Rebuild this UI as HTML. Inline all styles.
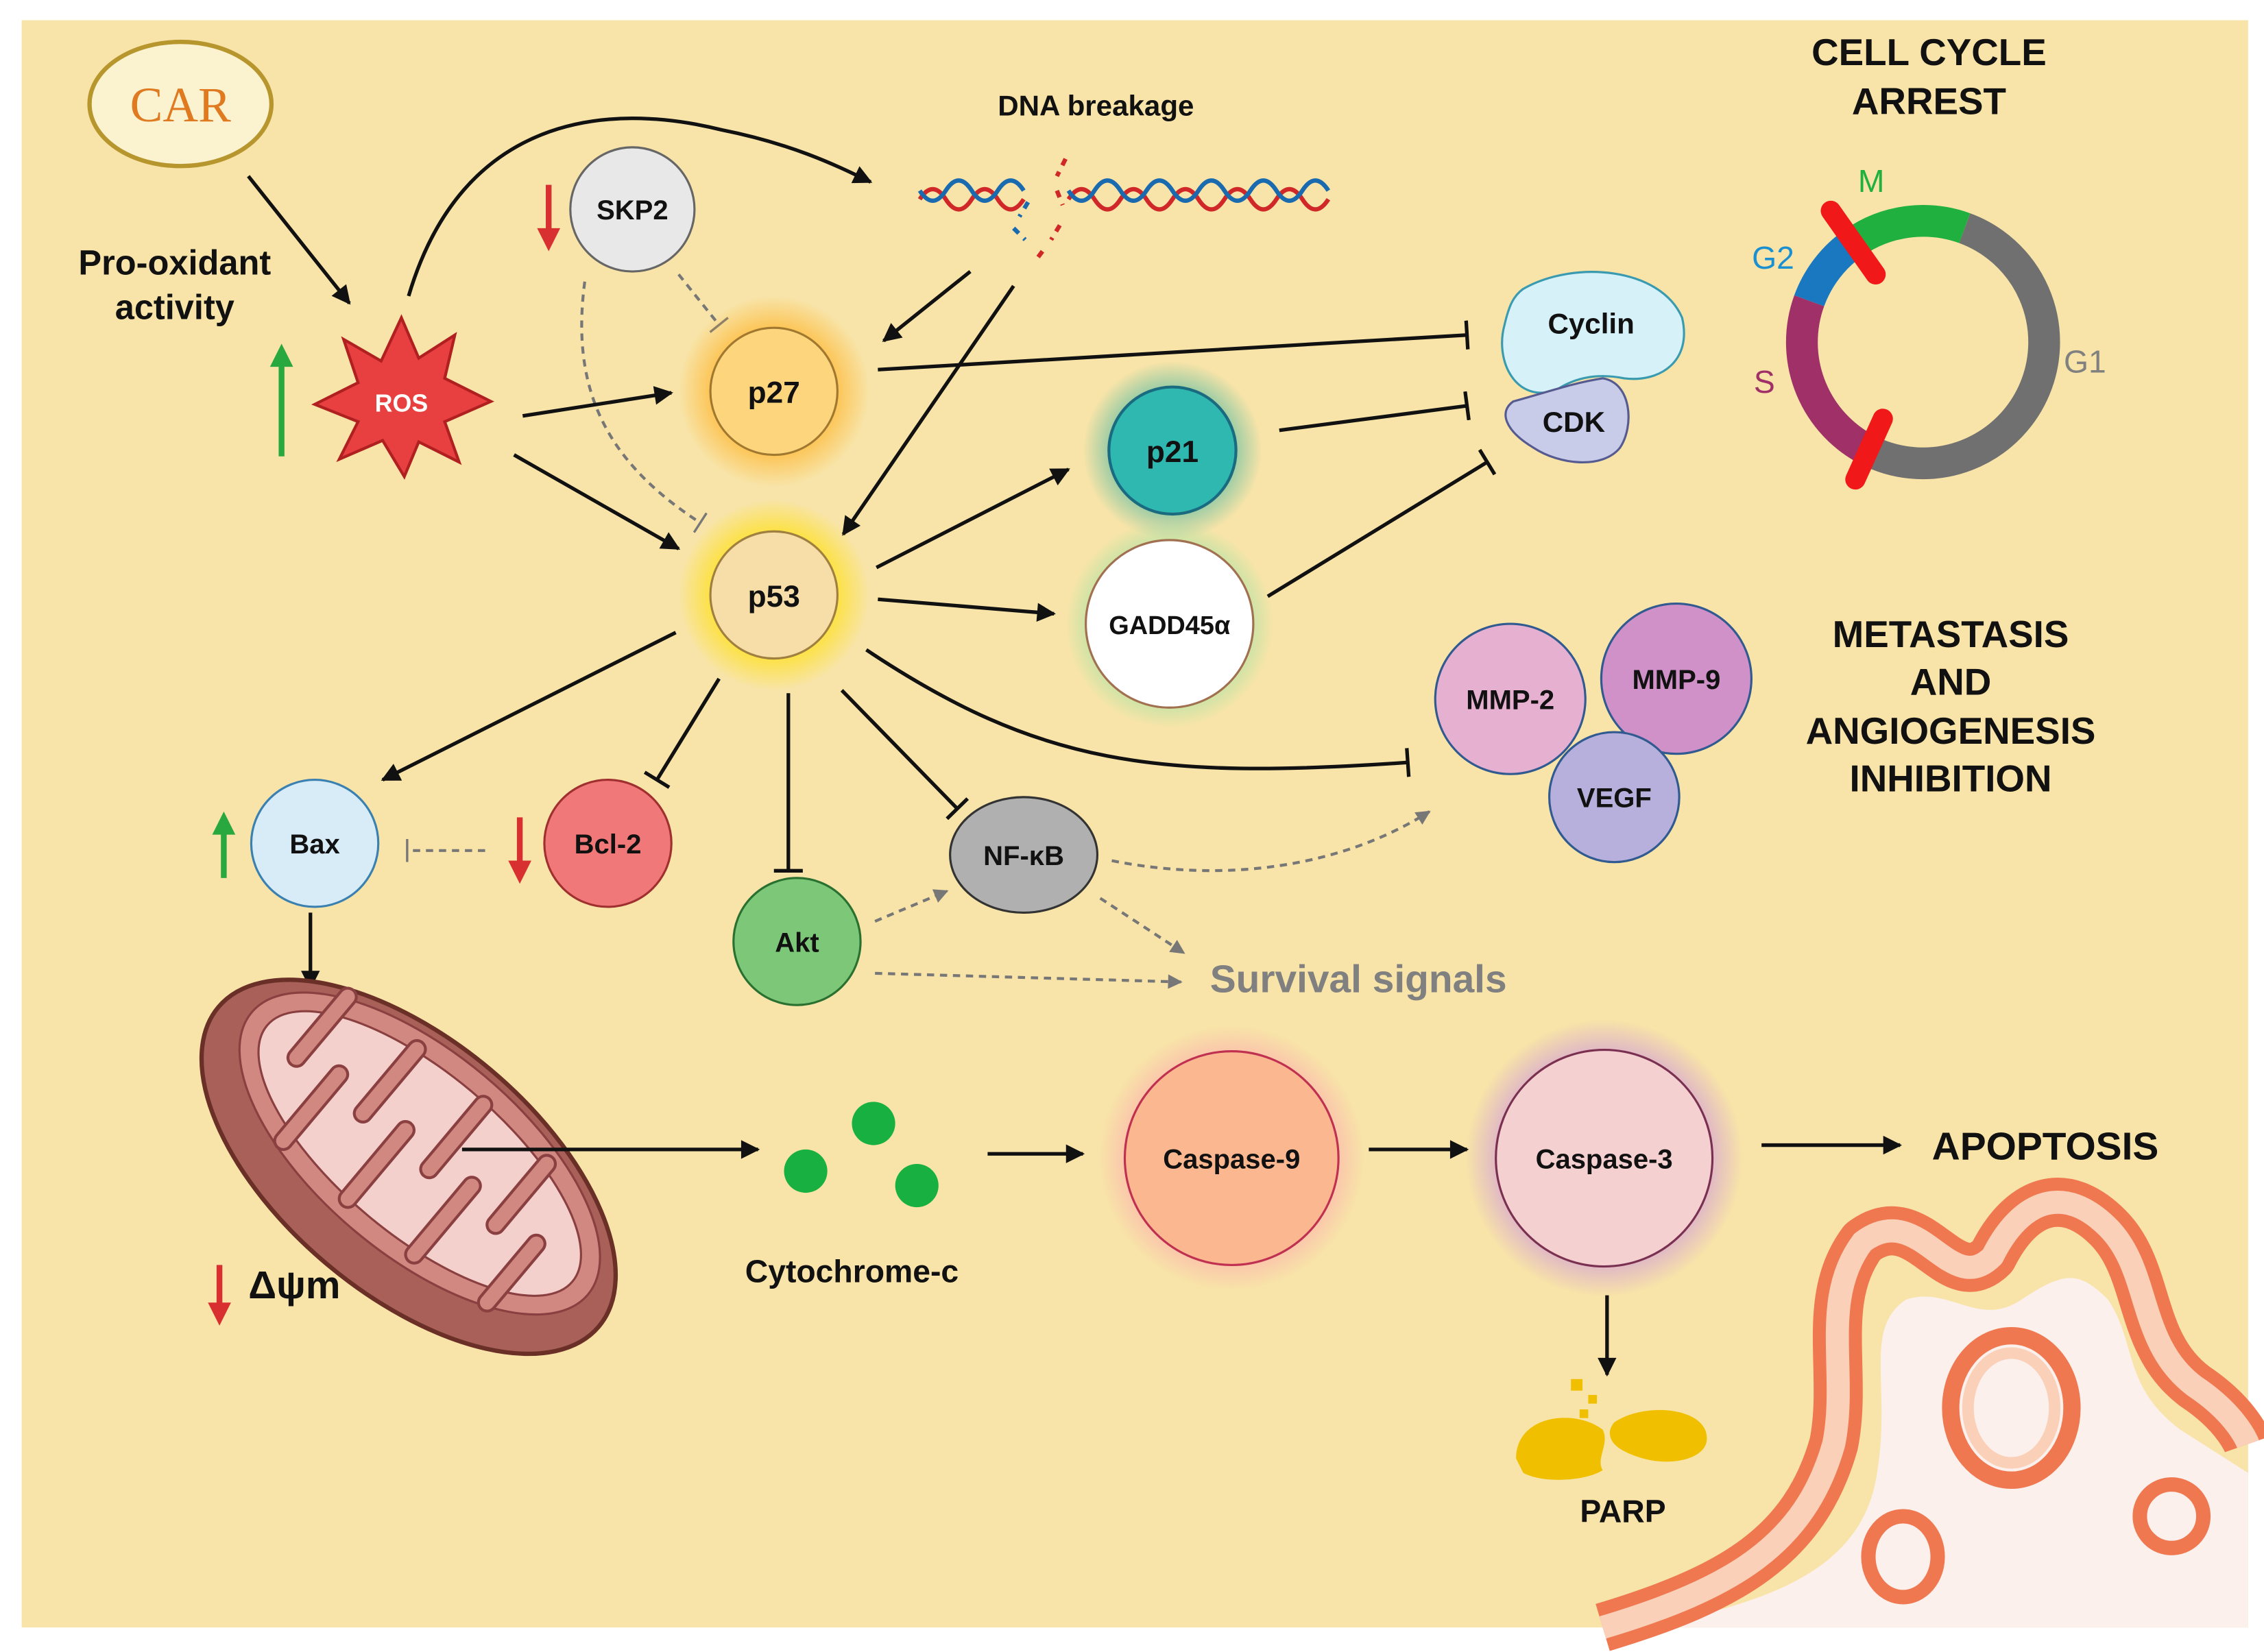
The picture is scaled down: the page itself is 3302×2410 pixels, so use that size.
<!DOCTYPE html>
<html><head><meta charset="utf-8"><style>
html,body{margin:0;padding:0;background:#fff;}
svg{display:block;}
text{font-family:"Liberation Sans",Arial,sans-serif;font-weight:bold;}
</style></head><body>
<svg width="3302" height="2410" viewBox="0 0 1568 1144" preserveAspectRatio="none" xmlns="http://www.w3.org/2000/svg">
<defs>
<marker id="a" markerUnits="userSpaceOnUse" viewBox="0 0 10 10" refX="9" refY="5" markerWidth="14" markerHeight="13" orient="auto"><path d="M0,0 L10,5 L0,10 z" fill="#111"/></marker>
<marker id="g" markerUnits="userSpaceOnUse" viewBox="0 0 10 10" refX="9" refY="5" markerWidth="11" markerHeight="10" orient="auto"><path d="M0,0 L10,5 L0,10 z" fill="#777"/></marker>
<marker id="t" markerUnits="userSpaceOnUse" viewBox="0 0 4 20" refX="2" refY="10" markerWidth="4" markerHeight="20" orient="auto"><path d="M2,0 L2,20" stroke="#111" stroke-width="2.5"/></marker>
<marker id="tg" markerUnits="userSpaceOnUse" viewBox="0 0 4 20" refX="2" refY="10" markerWidth="4" markerHeight="16" orient="auto"><path d="M2,0 L2,20" stroke="#777" stroke-width="2"/></marker>
<radialGradient id="gy"><stop offset="0.55" stop-color="#ffe000" stop-opacity="0.8"/><stop offset="1" stop-color="#ffe000" stop-opacity="0"/></radialGradient>
<radialGradient id="go"><stop offset="0.55" stop-color="#ffb020" stop-opacity="0.8"/><stop offset="1" stop-color="#ffb020" stop-opacity="0"/></radialGradient>
<radialGradient id="gt"><stop offset="0.55" stop-color="#30b0a0" stop-opacity="0.7"/><stop offset="1" stop-color="#30b0a0" stop-opacity="0"/></radialGradient>
<radialGradient id="gg"><stop offset="0.6" stop-color="#80e0a0" stop-opacity="0.7"/><stop offset="1" stop-color="#80e0a0" stop-opacity="0"/></radialGradient>
<radialGradient id="gp"><stop offset="0.6" stop-color="#ff80b0" stop-opacity="0.6"/><stop offset="1" stop-color="#ff80b0" stop-opacity="0"/></radialGradient>
<radialGradient id="gv"><stop offset="0.6" stop-color="#b060ff" stop-opacity="0.6"/><stop offset="1" stop-color="#b060ff" stop-opacity="0"/></radialGradient>
</defs>
<rect x="15" y="14" width="1542" height="1113" fill="#f8e4a8"/>

<!-- cell at bottom right -->
<g fill="none" stroke-linejoin="round">
<path d="M1140,1127 C1220,1110 1290,1090 1300,1020 C1310,960 1290,920 1320,900 C1350,890 1370,920 1400,900 C1430,880 1440,880 1460,900 C1480,930 1470,960 1510,990 L1557,1020 L1557,1127 Z" fill="#fbf0ec" stroke="none"/>
<path d="M1110,1127 C1200,1100 1250,1070 1270,1000 C1280,950 1260,900 1290,860 C1330,830 1350,900 1380,870 C1400,830 1430,820 1460,850 C1490,880 1480,930 1520,960 C1550,980 1557,1000 1557,1000" stroke="#f07850" stroke-width="34"/>
<path d="M1110,1127 C1200,1100 1250,1070 1270,1000 C1280,950 1260,900 1290,860 C1330,830 1350,900 1380,870 C1400,830 1430,820 1460,850 C1490,880 1480,930 1520,960 C1550,980 1557,1000 1557,1000" stroke="#fbd0b8" stroke-width="16"/>
<ellipse cx="1393" cy="975" rx="42" ry="50" stroke="#f07850" stroke-width="12"/>
<ellipse cx="1393" cy="975" rx="30" ry="38" stroke="#fbd0b8" stroke-width="8"/>
<ellipse cx="1318" cy="1078" rx="24" ry="28" stroke="#f07850" stroke-width="10"/>
<ellipse cx="1504" cy="1050" rx="22" ry="22" stroke="#f07850" stroke-width="10"/>
</g>

<!-- CAR -->
<ellipse cx="125" cy="72" rx="63" ry="43" fill="#fbf3d0" stroke="#b8962e" stroke-width="3"/>
<text x="125" y="84" text-anchor="middle" font-size="34" fill="#e07a20" style="font-family:'Liberation Serif',serif;font-weight:normal">CAR</text>
<text x="121" y="190" text-anchor="middle" font-size="24" fill="#111">Pro-oxidant</text>
<text x="121" y="221" text-anchor="middle" font-size="24" fill="#111">activity</text>
<line x1="172" y1="122" x2="242" y2="210" stroke="#111" stroke-width="2.5" marker-end="url(#a)"/>

<!-- ROS -->
<polygon points="278,220 290,248 315,232 308,262 340,278 308,292 318,320 290,306 280,330 265,305 235,318 248,292 218,280 248,265 238,235 264,250" fill="#e84040" stroke="#b02020" stroke-width="2"/>
<text x="278" y="285" text-anchor="middle" font-size="17" fill="#fff">ROS</text>
<line x1="195" y1="316" x2="195" y2="250" stroke="#2aa840" stroke-width="4"/><path d="M187,254 L195,238 L203,254 z" fill="#2aa840"/>
<path d="M283,205 C320,80 420,70 500,90 C550,100 580,115 603,126" fill="none" stroke="#111" stroke-width="2.5" marker-end="url(#a)"/>

<!-- DNA -->
<text x="759" y="80" text-anchor="middle" font-size="20" fill="#111">DNA breakage</text>
<g fill="none" stroke-width="3">
<path d="M637,138 q9,-14 18,0 t18,0 t18,0 t18,0" stroke="#d02828"/>
<path d="M637,132 q9,14 18,0 t18,0 t18,0 t18,0" stroke="#1a6ab0"/>
<path d="M740,138 q9,-14 18,0 t18,0 t18,0 t18,0 t18,0 t18,0 t18,0 t18,0 t18,0 t18,0" stroke="#d02828"/>
<path d="M740,132 q9,14 18,0 t18,0 t18,0 t18,0 t18,0 t18,0 t18,0 t18,0 t18,0 t18,0" stroke="#1a6ab0"/>
<path d="M738,110 l-6,12 m0,10 l4,10 m-2,14 l-6,10 m-6,8 l-6,8" stroke="#d02828" stroke-dasharray="5 5"/>
<path d="M712,140 l-6,10 m-4,8 l8,8" stroke="#1a6ab0" stroke-dasharray="5 5"/>
</g>
<line x1="672" y1="188" x2="612" y2="236" stroke="#111" stroke-width="2.5" marker-end="url(#a)"/>
<line x1="702" y1="198" x2="584" y2="370" stroke="#111" stroke-width="2.5" marker-end="url(#a)"/>

<!-- SKP2 -->
<line x1="380" y1="128" x2="380" y2="160" stroke="#d83030" stroke-width="4"/><path d="M372,158 L380,174 L388,158 z" fill="#d83030"/>
<circle cx="438" cy="145" r="43" fill="#e8e8e8" stroke="#666" stroke-width="1.5"/>
<text x="438" y="152" text-anchor="middle" font-size="19" fill="#111">SKP2</text>
<line x1="470" y1="190" x2="498" y2="225" stroke="#777" stroke-width="2" stroke-dasharray="5 4" marker-end="url(#tg)"/>
<path d="M405,195 C395,270 420,320 485,362" fill="none" stroke="#777" stroke-width="2" stroke-dasharray="5 4" marker-end="url(#tg)"/>

<!-- p27 -->
<circle cx="536" cy="271" r="66" fill="url(#go)"/>
<circle cx="536" cy="271" r="44" fill="#fcd57c" stroke="#a07830" stroke-width="1.5"/>
<text x="536" y="279" text-anchor="middle" font-size="21" fill="#111">p27</text>
<line x1="362" y1="288" x2="465" y2="272" stroke="#111" stroke-width="2.5" marker-end="url(#a)"/>
<line x1="608" y1="256" x2="1016" y2="232" stroke="#111" stroke-width="2.5" marker-end="url(#t)"/>

<!-- p53 -->
<circle cx="536" cy="412" r="66" fill="url(#gy)"/>
<circle cx="536" cy="412" r="44" fill="#f7dea8" stroke="#a08040" stroke-width="1.5"/>
<text x="536" y="420" text-anchor="middle" font-size="21" fill="#111">p53</text>
<line x1="356" y1="315" x2="470" y2="380" stroke="#111" stroke-width="2.5" marker-end="url(#a)"/>
<line x1="607" y1="393" x2="740" y2="325" stroke="#111" stroke-width="2.5" marker-end="url(#a)"/>
<line x1="608" y1="415" x2="730" y2="425" stroke="#111" stroke-width="2.5" marker-end="url(#a)"/>
<path d="M600,450 C720,530 800,540 975,528" fill="none" stroke="#111" stroke-width="2.5" marker-end="url(#t)"/>
<line x1="468" y1="438" x2="265" y2="540" stroke="#111" stroke-width="2.5" marker-end="url(#a)"/>
<line x1="498" y1="470" x2="455" y2="540" stroke="#111" stroke-width="2.5" marker-end="url(#t)"/>
<line x1="546" y1="480" x2="546" y2="603" stroke="#111" stroke-width="2.5" marker-end="url(#t)"/>
<line x1="583" y1="478" x2="663" y2="560" stroke="#111" stroke-width="2.5" marker-end="url(#t)"/>

<!-- p21 -->
<circle cx="812" cy="312" r="62" fill="url(#gt)"/>
<circle cx="812" cy="312" r="44" fill="#2eb8b0" stroke="#1a6a80" stroke-width="2"/>
<text x="812" y="320" text-anchor="middle" font-size="21" fill="#111">p21</text>
<line x1="886" y1="298" x2="1016" y2="281" stroke="#111" stroke-width="2.5" marker-end="url(#t)"/>

<!-- GADD45 -->
<circle cx="810" cy="432" r="72" fill="url(#gg)"/>
<circle cx="810" cy="432" r="58" fill="#fff" stroke="#a07050" stroke-width="1.5"/>
<text x="810" y="439" text-anchor="middle" font-size="18" fill="#111">GADD45α</text>
<line x1="878" y1="413" x2="1030" y2="320" stroke="#111" stroke-width="2.5" marker-end="url(#t)"/>

<!-- Cyclin CDK -->
<path d="M1055,200 C1090,180 1150,185 1165,220 C1172,250 1150,265 1125,262 C1105,258 1090,262 1078,270 C1050,280 1035,250 1042,225 C1045,212 1048,205 1055,200 z" fill="#d6f2f8" stroke="#3a9ab0" stroke-width="1.5"/>
<text x="1102" y="231" text-anchor="middle" font-size="20" fill="#111">Cyclin</text>
<path d="M1048,278 C1070,272 1090,265 1110,262 C1130,265 1132,295 1122,310 C1110,325 1080,322 1062,310 C1042,298 1038,285 1048,278 z" fill="#c8cce8" stroke="#555a90" stroke-width="1.5"/>
<text x="1090" y="299" text-anchor="middle" font-size="20" fill="#111">CDK</text>

<!-- Cell cycle -->
<text x="1336" y="45" text-anchor="middle" font-size="26" fill="#111">CELL CYCLE</text>
<text x="1336" y="79" text-anchor="middle" font-size="26" fill="#111">ARREST</text>
<g fill="none" stroke-width="22">
<path d="M1360.7,158 A84,84 0 1 1 1296.5,313.1" stroke="#707070"/>
<path d="M1283.8,168.2 A84,84 0 0 1 1360.7,158" stroke="#20b040"/>
<path d="M1253,208.3 A84,84 0 0 1 1283.8,168.2" stroke="#1a78c0"/>
<path d="M1296.5,313.1 A84,84 0 0 1 1253,208.3" stroke="#a03068"/>
</g>
<line x1="1268" y1="146" x2="1299" y2="190" stroke="#f01818" stroke-width="14" stroke-linecap="round"/>
<line x1="1304" y1="290" x2="1285" y2="332" stroke="#f01818" stroke-width="14" stroke-linecap="round"/>
<text x="1296" y="133" text-anchor="middle" font-size="22" fill="#20b040" style="font-weight:normal">M</text>
<text x="1228" y="186" text-anchor="middle" font-size="22" fill="#1a90d0" style="font-weight:normal">G2</text>
<text x="1222" y="272" text-anchor="middle" font-size="22" fill="#a03068" style="font-weight:normal">S</text>
<text x="1444" y="258" text-anchor="middle" font-size="22" fill="#808080" style="font-weight:normal">G1</text>

<!-- MMP -->
<circle cx="1046" cy="484" r="52" fill="#e6b0d0" stroke="#305a90" stroke-width="1.5"/>
<text x="1046" y="491" text-anchor="middle" font-size="19" fill="#111">MMP-2</text>
<circle cx="1161" cy="470" r="52" fill="#d090c8" stroke="#305a90" stroke-width="1.5"/>
<text x="1161" y="477" text-anchor="middle" font-size="19" fill="#111">MMP-9</text>
<circle cx="1118" cy="552" r="45" fill="#b8b0dc" stroke="#305a90" stroke-width="1.5"/>
<text x="1118" y="559" text-anchor="middle" font-size="19" fill="#111">VEGF</text>
<text x="1351" y="448" text-anchor="middle" font-size="26" fill="#111">METASTASIS</text>
<text x="1351" y="481" text-anchor="middle" font-size="26" fill="#111">AND</text>
<text x="1351" y="515" text-anchor="middle" font-size="26" fill="#111">ANGIOGENESIS</text>
<text x="1351" y="548" text-anchor="middle" font-size="26" fill="#111">INHIBITION</text>

<!-- Bax Bcl2 -->
<line x1="155" y1="608" x2="155" y2="575" stroke="#2aa840" stroke-width="4"/><path d="M147,578 L155,562 L163,578 z" fill="#2aa840"/>
<circle cx="218" cy="584" r="44" fill="#d8ecf8" stroke="#3a80b0" stroke-width="1.5"/>
<text x="218" y="591" text-anchor="middle" font-size="19" fill="#111">Bax</text>
<line x1="360" y1="566" x2="360" y2="598" stroke="#d83030" stroke-width="4"/><path d="M352,596 L360,612 L368,596 z" fill="#d83030"/>
<circle cx="421" cy="584" r="44" fill="#f07878" stroke="#a03030" stroke-width="1.5"/>
<text x="421" y="591" text-anchor="middle" font-size="19" fill="#111">Bcl-2</text>
<line x1="336" y1="589" x2="282" y2="589" stroke="#777" stroke-width="2" stroke-dasharray="5 4" marker-end="url(#tg)"/>
<line x1="215" y1="632" x2="215" y2="684" stroke="#111" stroke-width="2.5" marker-end="url(#a)"/>

<!-- Akt NFkB -->
<circle cx="552" cy="652" r="44" fill="#7cc878" stroke="#2a7030" stroke-width="1.5"/>
<text x="552" y="659" text-anchor="middle" font-size="19" fill="#111">Akt</text>
<ellipse cx="709" cy="592" rx="51" ry="40" fill="#b0b0b0" stroke="#333" stroke-width="1.5"/>
<text x="709" y="599" text-anchor="middle" font-size="19" fill="#111">NF-κB</text>
<line x1="606" y1="638" x2="656" y2="617" stroke="#777" stroke-width="2" stroke-dasharray="5 4" marker-end="url(#g)"/>
<line x1="606" y1="674" x2="818" y2="680" stroke="#777" stroke-width="2" stroke-dasharray="5 4" marker-end="url(#g)"/>
<line x1="762" y1="622" x2="820" y2="660" stroke="#777" stroke-width="2" stroke-dasharray="5 4" marker-end="url(#g)"/>
<path d="M770,596 C850,612 930,600 990,562" fill="none" stroke="#777" stroke-width="2" stroke-dasharray="5 4" marker-end="url(#g)"/>
<text x="838" y="687" font-size="27" fill="#808080">Survival signals</text>

<!-- Mitochondrion -->
<g transform="rotate(40 283 808)">
<ellipse cx="283" cy="808" rx="172" ry="88" fill="#a86058" stroke="#6a3028" stroke-width="3"/>
<ellipse cx="283" cy="796" rx="152" ry="70" fill="#d08880" stroke="#8a4040" stroke-width="1.5"/>
<ellipse cx="283" cy="796" rx="138" ry="56" fill="#f4d0cc" stroke="#8a4040" stroke-width="1.5"/>
<g stroke="#8a4040" stroke-width="14" stroke-linecap="round">
<line x1="175" y1="745" x2="175" y2="800"/><line x1="205" y1="850" x2="205" y2="790"/>
<line x1="235" y1="742" x2="235" y2="800"/><line x1="265" y1="852" x2="265" y2="790"/>
<line x1="295" y1="742" x2="295" y2="800"/><line x1="325" y1="852" x2="325" y2="790"/>
<line x1="355" y1="745" x2="355" y2="800"/><line x1="385" y1="845" x2="385" y2="792"/>
</g>
<g stroke="#d08880" stroke-width="10" stroke-linecap="round">
<line x1="175" y1="745" x2="175" y2="800"/><line x1="205" y1="850" x2="205" y2="790"/>
<line x1="235" y1="742" x2="235" y2="800"/><line x1="265" y1="852" x2="265" y2="790"/>
<line x1="295" y1="742" x2="295" y2="800"/><line x1="325" y1="852" x2="325" y2="790"/>
<line x1="355" y1="745" x2="355" y2="800"/><line x1="385" y1="845" x2="385" y2="792"/>
</g>
</g>
<line x1="320" y1="796" x2="525" y2="796" stroke="#111" stroke-width="2.5" marker-end="url(#a)"/>
<line x1="152" y1="876" x2="152" y2="905" stroke="#d83030" stroke-width="4"/><path d="M144,902 L152,918 L160,902 z" fill="#d83030"/>
<text x="172" y="899" font-size="27" fill="#111">Δψm</text>

<!-- Cytochrome c -->
<circle cx="558" cy="811" r="15" fill="#18b040"/>
<circle cx="605" cy="778" r="15" fill="#18b040"/>
<circle cx="635" cy="821" r="15" fill="#18b040"/>
<text x="590" y="888" text-anchor="middle" font-size="22" fill="#111">Cytochrome-c</text>
<line x1="684" y1="799" x2="750" y2="799" stroke="#111" stroke-width="2.5" marker-end="url(#a)"/>

<!-- Caspases -->
<circle cx="853" cy="802" r="92" fill="url(#gp)"/>
<circle cx="853" cy="802" r="74" fill="#fbb890" stroke="#c03050" stroke-width="1.5"/>
<text x="853" y="809" text-anchor="middle" font-size="19" fill="#111">Caspase-9</text>
<line x1="948" y1="796" x2="1016" y2="796" stroke="#111" stroke-width="2.5" marker-end="url(#a)"/>
<circle cx="1111" cy="802" r="96" fill="url(#gv)"/>
<circle cx="1111" cy="802" r="75" fill="#f4d0d0" stroke="#7a3050" stroke-width="1.5"/>
<text x="1111" y="809" text-anchor="middle" font-size="19" fill="#111">Caspase-3</text>
<line x1="1220" y1="793" x2="1316" y2="793" stroke="#111" stroke-width="2.5" marker-end="url(#a)"/>
<text x="1338" y="803" font-size="27" fill="#111">APOPTOSIS</text>
<line x1="1113" y1="897" x2="1113" y2="952" stroke="#111" stroke-width="2.5" marker-end="url(#a)"/>

<!-- PARP -->
<path d="M1050,1010 C1050,980 1090,975 1110,990 C1115,1000 1105,1010 1110,1018 C1100,1025 1070,1028 1055,1020 z" fill="#f0c000"/>
<path d="M1118,985 C1140,970 1185,975 1182,998 C1180,1012 1150,1018 1125,1005 C1115,1000 1112,992 1118,985 z" fill="#f0c000"/>
<rect x="1088" y="955" width="8" height="8" fill="#f0c000"/><rect x="1100" y="966" width="6" height="6" fill="#f0c000"/><rect x="1094" y="976" width="6" height="6" fill="#f0c000"/>
<text x="1124" y="1054" text-anchor="middle" font-size="22" fill="#111">PARP</text>
</svg>
</body></html>
